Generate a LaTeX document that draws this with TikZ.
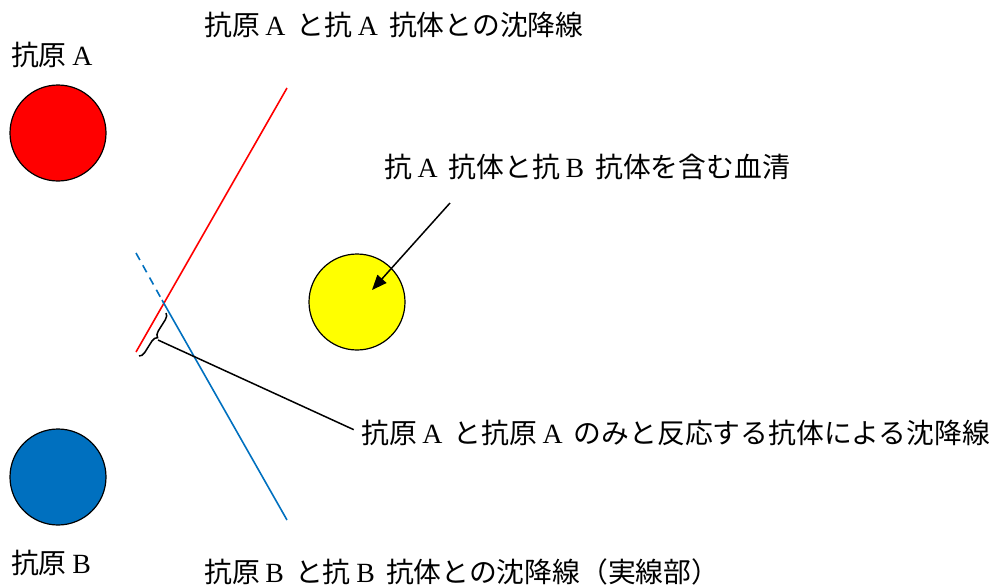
\documentclass[tikz,border=0pt]{standalone}
\usepackage{fontspec}
\setmainfont{Liberation Serif}
\newfontfamily\jpfont[WordSpace=1.8]{Noto Sans CJK JP}
\usetikzlibrary{arrows.meta, positioning, calc, decorations.pathreplacing}
\definecolor{AgRed}{rgb}{1, 0, 0}
\definecolor{AgBlue}{rgb}{0, 0.44, 0.75}
\definecolor{SerumYellow}{rgb}{1, 1, 0}
\newcommand{\Lt}[1]{\hspace{.2em}{\rmfamily #1}}
\newcommand{\well}[4]{% name, x, y, fill
    \node[well, fill=#4] (#1) at (#2,#3) {};
}

\begin{document}
\begin{tikzpicture}[x=1pt, y=-1pt,
    font=\fontsize{27.8}{32}\selectfont\jpfont,
    well/.style={circle, draw=black, line width=1.2pt, minimum size=96pt, inner sep=0pt},
    lbl/.style={anchor=west, inner sep=0pt},
    band/.style={line width=1.6pt}]

\useasboundingbox (0,0) rectangle (997,587);

% wells
\well{agA}{58}{133}{AgRed}
\well{agB}{58}{477}{AgBlue}
\well{serum}{357}{302}{SerumYellow}

% labels
\node[lbl] (lblA) at (11,55) {抗原\Lt{A}};
\node[lbl] (lblB) at (11,563) {抗原\Lt{B}};
\node[lbl] (lblLineA) at (204,25) {抗原\Lt{A} と抗\Lt{A} 抗体との沈降線};
\node[lbl] (lblLineB) at (204,572) {抗原\Lt{B} と抗\Lt{B} 抗体との沈降線（実線部）};
\node[lbl] (lblSerum) at (384,167) {抗\Lt{A} 抗体と抗\Lt{B} 抗体を含む血清};
\node[lbl] (lblSpur) at (361,433) {抗原\Lt{A} と抗原\Lt{A} のみと反応する抗体による沈降線};

% precipitin lines
\coordinate (redLo) at (136,352);
\coordinate (redHi) at (287,88);
\coordinate (blueHi) at (136,253);
\coordinate (cross) at (162,300);
\coordinate (blueLo) at (287,520);
\draw[band, AgRed] (redLo) -- (redHi);
\draw[band, AgBlue, dash pattern=on 8pt off 6pt] (blueHi) -- (cross);
\draw[band, AgBlue] (cross) -- (blueLo);

% brace and pointers
\coordinate (braceTop) at (166,313);
\coordinate (braceBot) at (139,356);
\coordinate (braceTip) at (158,340);
\draw[line width=1.5pt, decorate, decoration={brace, amplitude=6pt}] (braceTop) -- (braceBot);
\draw[line width=1.5pt, shorten >=8pt] (braceTip) -- (lblSpur.west);

\coordinate (arrStart) at (450,203);
\coordinate (arrEnd) at (372,290);
\draw[line width=1.5pt, -{Triangle[length=15pt, width=12pt]}] (arrStart) -- (arrEnd);

\end{tikzpicture}
\end{document}
